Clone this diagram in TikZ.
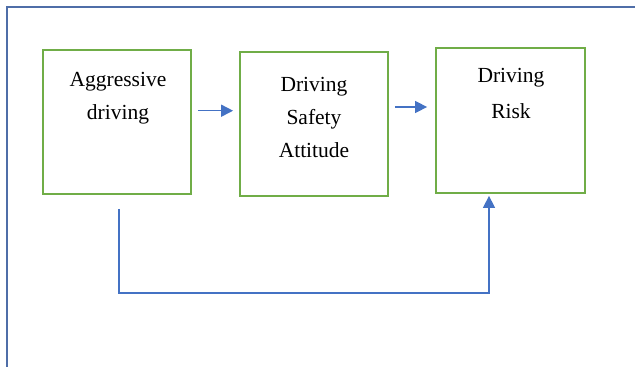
\documentclass[tikz,border=0pt]{standalone}
\usepackage{fontspec}
\setmainfont{Liberation Serif}
\usetikzlibrary{arrows.meta,calc}
\definecolor{boxgreen}{RGB}{112,173,71}
\definecolor{arrblue}{RGB}{68,114,196}
\definecolor{framblue}{RGB}{79,110,168}
\begin{document}
\begin{tikzpicture}[x=1pt,y=-1pt,
  box/.style={draw=boxgreen,line width=1.8pt,minimum width=148pt,minimum height=144pt,inner sep=0pt},
  lbl/.style={align=center,inner sep=0pt,anchor=base,font=\fontsize{21.5}{33}\selectfont},
  arr/.style={draw=arrblue,line width=1.5pt,-{Triangle[length=12pt,width=12pt]}},
  frame/.style={draw=framblue,line width=2.2pt}]
\useasboundingbox (0,0) rectangle (635,367);
\draw[frame] (7,367) -- (7,7) -- (635,7);
\node[box] (b1) at (117,122) {};
\node[box] (b2) at (314,124) {};
\node[box,minimum width=149pt,minimum height=145pt] (b3) at (510.5,120.5) {};
\node[lbl] (t1) at (118,119) {Aggressive\\driving};
\node[lbl] (t2) at (314,157) {Driving\\Safety\\Attitude};
\node[lbl,font=\fontsize{21.5}{36}\selectfont] (t3) at (511,118) {Driving\\Risk};
\draw[arr] ([shift={(6,-11.3)}]b1.east) -- ([shift={(-6,-13.3)}]b2.west);
\draw[arr] ([shift={(6,-17)}]b2.east) -- ([shift={(-8,-13.5)}]b3.west);
\coordinate (c1) at ([shift={(2,14)}]b1.south);
\coordinate (c2) at ([shift={(-21.5,2)}]b3.south);
\draw[arr] (c1) -- (c1 |- 0,293) -| (c2);
\end{tikzpicture}
\end{document}
